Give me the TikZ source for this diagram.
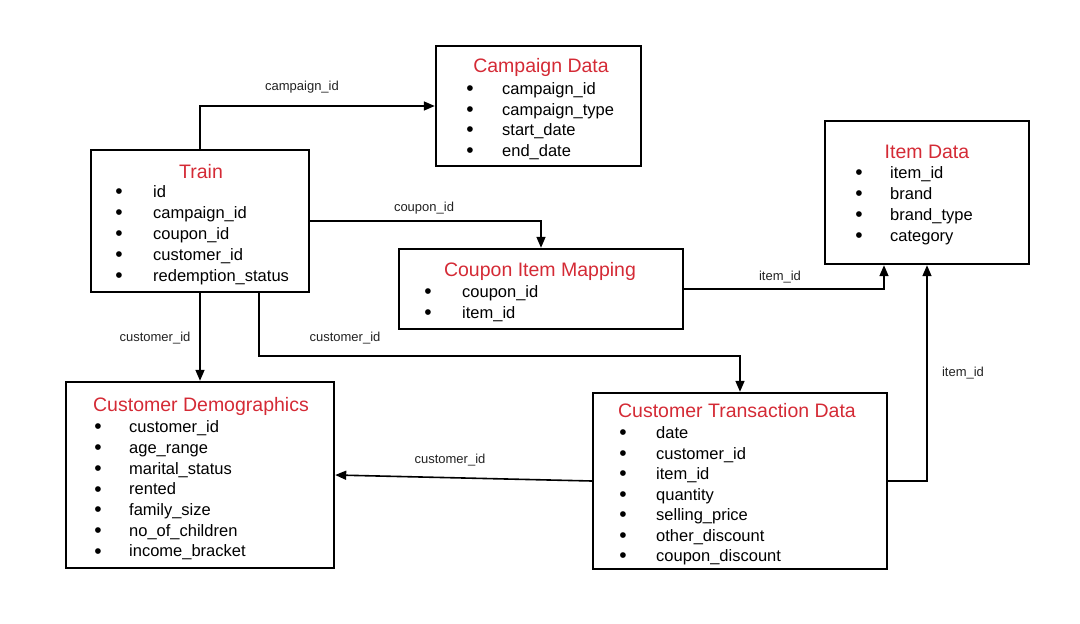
\documentclass[tikz,border=0pt]{standalone}
\usepackage{fontspec}
\setmainfont{Liberation Sans}
\usetikzlibrary{arrows.meta}
\definecolor{tblred}{HTML}{D42A35}
\definecolor{lblgray}{HTML}{222222}

\tikzset{
  tbl/.style={draw, line width=2.4pt, inner sep=0pt},
  ttl/.style={text=tblred, font=\fontsize{19.5}{22}\selectfont, inner sep=0pt},
  fld/.style={anchor=west, font=\fontsize{16.5}{19}\selectfont, inner sep=0pt, text height=0.72em, text depth=0.2em},
  dot/.style={font=\fontsize{21}{23}\selectfont, inner sep=0pt},
  lbl/.style={text=lblgray, font=\fontsize{13}{15}\selectfont, inner sep=0pt},
  link/.style={line width=1.6pt, -{Triangle[length=11pt,width=9pt]}},
}

\begin{document}
\begin{tikzpicture}[x=1pt, y=-1pt]
  \useasboundingbox (0,0) rectangle (1080,624);

  % tables
  \node[tbl, minimum width=205pt, minimum height=120pt] (camp) at (538.5,106) {};
  \node[tbl, minimum width=218pt, minimum height=142pt] (train) at (200,221) {};
  \node[tbl, minimum width=204pt, minimum height=143pt] (item) at (927,192.5) {};
  \node[tbl, minimum width=284pt, minimum height=80pt] (cim) at (541,289) {};
  \node[tbl, minimum width=268pt, minimum height=186pt] (cd) at (200,475) {};
  \node[tbl, minimum width=294pt, minimum height=176pt] (ctd) at (740,481) {};

  % Campaign Data
  \node[ttl] (camp-t) at (541,67) {Campaign Data};
  \foreach \f [count=\i from 0] in {campaign\_id, campaign\_type, start\_date, end\_date} {
    \node[dot] (camp-d\i) at (470,91+20.5*\i) {\textbullet};
    \node[fld] (camp-f\i) at (502,92+20.5*\i) {\f};
  }

  % Train
  \node[ttl] (train-t) at (201,172) {Train};
  \foreach \f [count=\i from 0] in {id, campaign\_id, coupon\_id, customer\_id, redemption\_status} {
    \node[dot] (train-d\i) at (119,194+21*\i) {\textbullet};
    \node[fld] (train-f\i) at (153,195+21*\i) {\f};
  }

  % Item Data
  \node[ttl] (item-t) at (927,152) {Item Data};
  \foreach \f [count=\i from 0] in {item\_id, brand, brand\_type, category} {
    \node[dot] (item-d\i) at (859,175+21*\i) {\textbullet};
    \node[fld] (item-f\i) at (890,176+21*\i) {\f};
  }

  % Coupon Item Mapping
  \node[ttl] (cim-t) at (540,271) {Coupon Item Mapping};
  \foreach \f [count=\i from 0] in {coupon\_id, item\_id} {
    \node[dot] (cim-d\i) at (428,294+21*\i) {\textbullet};
    \node[fld] (cim-f\i) at (462,295+21*\i) {\f};
  }

  % Customer Demographics
  \node[ttl] (cd-t) at (201,406) {Customer Demographics};
  \foreach \f [count=\i from 0] in {customer\_id, age\_range, marital\_status, rented, family\_size, no\_of\_children, income\_bracket} {
    \node[dot] (cd-d\i) at (98,429+20.7*\i) {\textbullet};
    \node[fld] (cd-f\i) at (129,430+20.7*\i) {\f};
  }

  % Customer Transaction Data
  \node[ttl] (ctd-t) at (737,411) {Customer Transaction Data};
  \foreach \f [count=\i from 0] in {date, customer\_id, item\_id, quantity, selling\_price, other\_discount, coupon\_discount} {
    \node[dot] (ctd-d\i) at (623,435+20.5*\i) {\textbullet};
    \node[fld] (ctd-f\i) at (656,436+20.5*\i) {\f};
  }

  % links
  \draw[link] (train.north) |- (camp.west);
  \draw[link] (train.east) -| (cim.north);
  \draw[link] (cim.east) -| ([xshift=-43pt]item.south);
  \draw[link] (ctd.east) -| (item.south);
  \draw[link] (train.south) -- (cd.north);
  \draw[link] ([xshift=59pt]train.south) |- (ctd.north |- 0,356) -- (ctd.north);
  \draw[link] (ctd.west) -- (cd.east);

  % link labels
  \node[lbl] (l-camp) at (302,87) {campaign\_id};
  \node[lbl] (l-coup) at (424,208) {coupon\_id};
  \node[lbl] (l-item1) at (780,277) {item\_id};
  \node[lbl] (l-cust1) at (155,338) {customer\_id};
  \node[lbl] (l-cust2) at (345,338) {customer\_id};
  \node[lbl] (l-item2) at (963,373) {item\_id};
  \node[lbl] (l-cust3) at (450,460) {customer\_id};
\end{tikzpicture}
\end{document}
